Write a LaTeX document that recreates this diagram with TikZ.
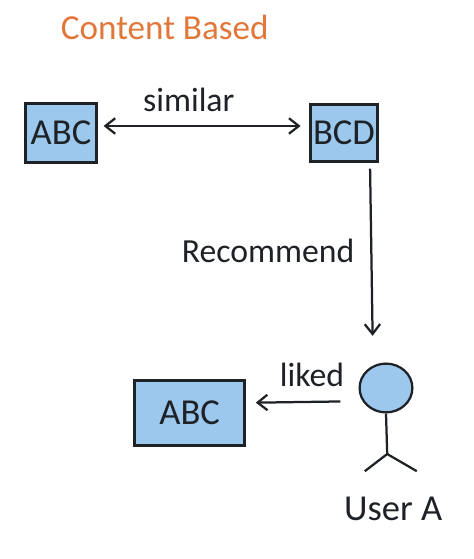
\documentclass[tikz,border=0pt]{standalone}
\usepackage{fontspec}
\setmainfont{Carlito}
\usetikzlibrary{arrows.meta,shapes.geometric}
\definecolor{inkcol}{HTML}{1E2226}
\definecolor{boxcol}{HTML}{9BC8EC}
\definecolor{titlecol}{HTML}{E2773A}
\tikzset{
  itembox/.style={draw=inkcol,fill=boxcol,line width=1.9pt,inner sep=0pt,font=\fontsize{26}{30}\selectfont,text=inkcol},
  lbl/.style={text=inkcol,inner sep=0pt,font=\fontsize{24}{28}\selectfont},
  link/.style={draw=inkcol,line width=1.6pt,-{Straight Barb[length=7pt,width=11pt]}},
  limb/.style={draw=inkcol,line width=1.6pt}
}
\begin{document}
\begin{tikzpicture}
\useasboundingbox (0,0) rectangle (11.825,-13.975);
\node[text=titlecol,inner sep=0pt,font=\fontsize{25}{30}\selectfont] (title) at (4.12,-0.68) {Content Based};
\node[itembox,minimum width=1.78cm,minimum height=1.48cm] (abcA) at (1.525,-3.325) {ABC};
\node[itembox,minimum width=1.68cm,minimum height=1.43cm] (bcd) at (8.6,-3.325) {BCD};
\node[itembox,minimum width=2.75cm,minimum height=1.63cm] (abcB) at (4.74,-10.325) {ABC};
\node[ellipse,draw=inkcol,fill=boxcol,line width=1.6pt,inner sep=0pt,minimum width=1.32cm,minimum height=1.22cm] (head) at (9.65,-9.7) {};
\coordinate (hip) at (9.68,-11.35);
\coordinate (legL) at (9.12,-11.78);
\coordinate (legR) at (10.42,-11.78);
\node[lbl] (similar) at (4.72,-2.5) {similar};
\node[lbl] (recommend) at (6.7,-6.27) {Recommend};
\node[lbl] (liked) at (7.8,-9.38) {liked};
\node[lbl,font=\fontsize{26}{30}\selectfont] (user) at (9.83,-12.72) {User A};
\draw[link,{Straight Barb[length=7pt,width=11pt]}-{Straight Barb[length=7pt,width=11pt]},shorten <=4pt,shorten >=6pt] (abcA.east |- 0,-3.15) -- (bcd.west |- 0,-3.15);
\draw[link,shorten <=4pt,shorten >=19pt] ([xshift=0.65cm]bcd.south) -- ([xshift=-0.325cm]head.north);
\draw[link,shorten <=0.45cm,shorten >=7pt] (head.west |- 0,-10.03) -- (abcB.east |- 0,-10.07);
\draw[limb] (head.south) -- (hip);
\draw[limb] (legL) -- (hip) -- (legR);
\end{tikzpicture}
\end{document}
